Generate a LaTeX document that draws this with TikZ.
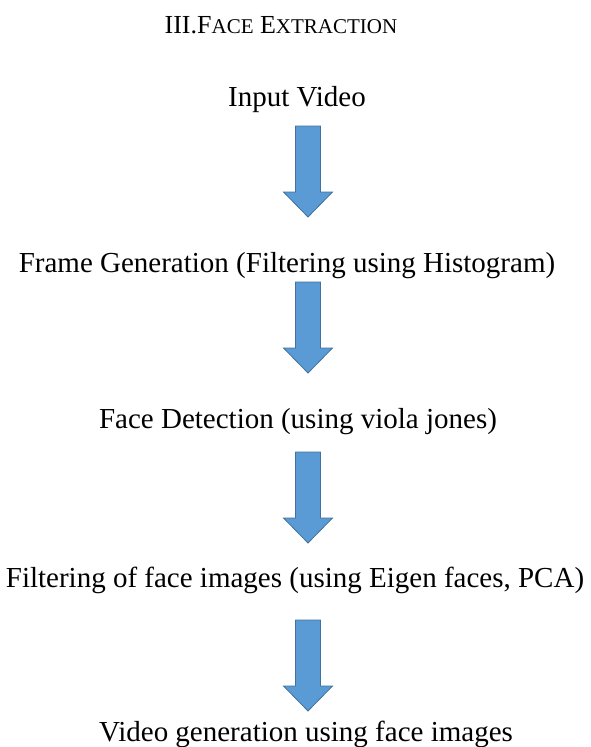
\documentclass[tikz,border=0pt]{standalone}
\usepackage{fontspec}
\setmainfont{Liberation Serif}
\usepackage{xcolor}
\usepackage{tikz}
\definecolor{flowfill}{HTML}{5B9BD5}
\definecolor{flowedge}{HTML}{41719C}
\newcommand{\fakesc}[1]{{\fontsize{21}{21}\selectfont #1}}

\begin{document}
\begin{tikzpicture}[x=1pt,y=-1pt,font=\fontsize{29}{31}\selectfont,
  stage/.style={anchor=base,inner sep=0pt},
  flow arrow/.pic={
    \filldraw[fill=flowfill,draw=flowedge,line width=0.8pt]
      (-12.5,0) -- (12.5,0) -- (12.5,66) -- (24.5,66) -- (0,91)
      -- (-24.5,66) -- (-12.5,66) -- cycle;
  }]
  \useasboundingbox (0,0) rectangle (590,747);

  \node[stage,font=\fontsize{26}{28}\selectfont] (title) at (281,33)
    {III.F\fakesc{ACE} E\fakesc{XTRACTION}};

  \node[stage] (input) at (297,106) {Input Video};
  \pic (arrA) at (308,126) {flow arrow};

  \node[stage] (frames) at (287,272) {Frame Generation (Filtering using Histogram)};
  \pic (arrB) at (308,282) {flow arrow};

  \node[stage] (detect) at (298,428) {Face Detection (using viola jones)};
  \pic (arrC) at (308,452) {flow arrow};

  \node[stage] (filter) at (295,587) {Filtering of face images (using Eigen faces, PCA)};
  \pic (arrD) at (308,620) {flow arrow};

  \node[stage] (output) at (306,741) {Video generation using face images};
\end{tikzpicture}
\end{document}
